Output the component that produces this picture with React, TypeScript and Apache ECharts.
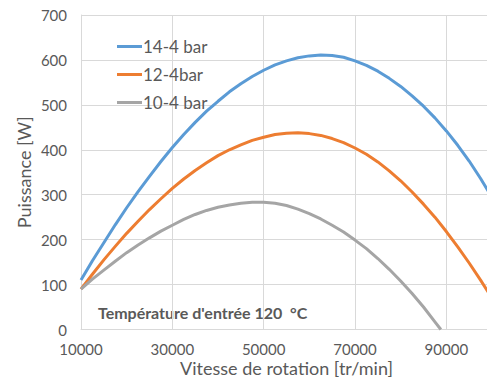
import React, { useEffect, useRef } from "react";
import * as echarts from "echarts";

// Rotation speed [tr/min]
const speeds = [
  10000, 12500, 15000, 17500, 20000, 22500, 25000, 27500, 30000, 32500, 35000, 37500, 40000,
  42500, 45000, 47500, 50000, 52500, 55000, 57500, 60000, 62500, 65000, 67500, 70000, 72500,
  75000, 77500, 80000, 82500, 85000, 87500, 90000, 92500, 95000, 97500, 100000,
];
// Power [W]
const p14 = [
  110, 153, 193, 233, 271, 307, 341, 374, 405, 434, 461, 486, 508, 529, 547, 563, 577, 589, 598,
  605, 609, 611, 610, 606, 598, 588, 575, 559, 541, 520, 497, 471, 442, 410, 375, 336, 294,
];
const p12 = [
  90, 123, 155, 185, 214, 241, 267, 291, 314, 335, 354, 371, 387, 400, 411, 421, 428, 434, 437,
  438, 436, 432, 425, 416, 404, 390, 373, 353, 331, 306, 279, 250, 218, 184, 148, 110, 70,
];
const speeds10 = [
  10000, 12500, 15000, 17500, 20000, 22500, 25000, 27500, 30000, 32500, 35000, 37500, 40000,
  42500, 45000, 47500, 50000, 52500, 55000, 57500, 60000, 62500, 65000, 67500, 70000, 72500,
  75000, 77500, 80000, 82500, 85000, 87500, 88800,
];
const p10 = [
  90, 112, 132, 152, 171, 188, 204, 219, 232, 245, 256, 265, 272, 277, 281, 283, 283, 281, 276,
  268, 258, 246, 232, 217, 199, 180, 158, 134, 108, 80, 50, 17, 0,
];

const seriesNames = ["14-4 bar", "12-4bar", "10-4 bar"];
const colors = ["#5B9BD5", "#ED7D31", "#A5A5A5"];
const xTickStart = 10000;
const xTickStep = 20000;
const xEnd = 100000;
const yTicks = [0, 100, 200, 300, 400, 500, 600, 700];
const xTitle = "Vitesse de rotation [tr/min]";
const yTitle = "Puissance [W]";
const note = "Température d'entrée 120  °C";

const FONT = "Lato, 'Open Sans', sans-serif";
const TXT = "#595959";

export default function App() {
  const ref = useRef<HTMLDivElement>(null);
  useEffect(() => {
    if (!ref.current) return;
    const chart = echarts.init(ref.current, undefined, { renderer: "svg" });
    const pairs = (xs: number[], ys: number[]) => xs.map((x, i) => [x - xTickStart, ys[i]]);
    chart.setOption({
      animation: false,
      textStyle: { fontFamily: FONT },
      grid: {
        left: 81,
        right: -5,
        top: 15,
        bottom: 48.5,
        containLabel: false,
        outerBoundsMode: "none",
      },
      legend: {
        orient: "vertical",
        left: 112,
        top: 33,
        itemWidth: 25,
        itemHeight: 14,
        itemGap: 11,
        icon: "path://M0,0H25V3H0Z",
        textStyle: { fontFamily: FONT, fontSize: 17, color: TXT, padding: [0, 0, 0, -4] },
        data: seriesNames,
      },
      xAxis: {
        type: "value",
        min: 0,
        max: xEnd - xTickStart,
        interval: xTickStep,
        name: xTitle,
        nameLocation: "middle",
        nameGap: 30,
        nameMoveOverlap: false,
        nameTextStyle: { fontFamily: FONT, fontSize: 18, lineHeight: 16, color: TXT },
        axisLine: { show: true, lineStyle: { color: "#D9D9D9", width: 1 } },
        axisTick: { show: false },
        splitLine: { show: true, lineStyle: { color: "#D9D9D9", width: 1 } },
        axisLabel: {
          fontFamily: FONT,
          fontSize: 15,
          lineHeight: 14,
          color: TXT,
          margin: 12,
          formatter: (v: number) => String(v + xTickStart),
          showMaxLabel: false,
        },
      },
      yAxis: {
        type: "value",
        min: yTicks[0],
        max: yTicks[yTicks.length - 1],
        interval: yTicks[1] - yTicks[0],
        name: yTitle,
        nameLocation: "middle",
        nameGap: 48,
        nameMoveOverlap: false,
        nameTextStyle: { fontFamily: FONT, fontSize: 18, color: TXT },
        axisLine: { show: true, lineStyle: { color: "#D9D9D9", width: 1 } },
        axisTick: { show: false },
        splitLine: { show: true, lineStyle: { color: "#D9D9D9", width: 1 } },
        axisLabel: { fontFamily: FONT, fontSize: 15, color: TXT, margin: 14 },
      },
      graphic: [
        {
          type: "text",
          left: 98,
          top: 304,
          style: { text: note, fontFamily: FONT, fontSize: 16, fontWeight: "bold", fill: TXT },
        },
      ],
      series: [
        { name: seriesNames[0], data: pairs(speeds, p14) },
        { name: seriesNames[1], data: pairs(speeds, p12) },
        { name: seriesNames[2], data: pairs(speeds10, p10) },
      ].map((s, i) => ({
        ...s,
        type: "line",
        smooth: false,
        symbol: "none",
        showSymbol: false,
        clip: true,
        color: colors[i],
        lineStyle: { width: 3, color: colors[i], join: "round" },
      })),
    });
    return () => chart.dispose();
  }, []);
  return (
    <div
      ref={ref}
      style={{ position: "fixed", left: 0, top: 0, width: 487, height: 378, background: "#fff" }}
    />
  );
}
